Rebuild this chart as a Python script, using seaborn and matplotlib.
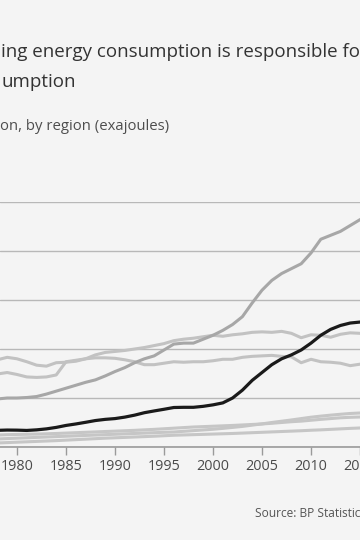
import numpy as np
import pandas as pd
import matplotlib
matplotlib.use("Agg")
import matplotlib.pyplot as plt
import seaborn as sns

# Primary energy consumption by region, exajoules
years = list(range(1977, 2017))

china = [16.2, 17.0, 17.3, 17.2, 16.9, 17.5, 18.5, 20.0, 22.0, 23.5,
         25.2, 27.0, 28.2, 29.0, 30.5, 32.5, 35.0, 36.8, 38.5, 40.3,
         40.5, 40.5, 41.5, 43.0, 45.0, 50.0, 58.0, 68.0, 76.0, 84.0,
         90.0, 94.0, 99.0, 106.0, 114.0, 120.0, 124.0, 126.5, 127.5, 128.5]
asia_pacific = [47.5, 49, 50, 50, 50.5, 51.5, 54, 57, 60, 63,
                66, 68.5, 72.5, 77, 81, 86, 90, 93, 99, 105,
                106, 106, 110, 114, 119, 125, 133, 147, 160, 170,
                177, 182, 187, 198, 212, 216, 220, 226, 232, 236]
north_america = [88, 89, 91.5, 90, 87, 83.5, 82.5, 86, 86.5, 87.5,
                 90, 94, 96.5, 97.5, 98.5, 100, 101.5, 103.5, 105.5, 108.5,
                 110, 111, 112.5, 114, 113, 114.5, 115.5, 117, 117.5, 117,
                 118, 116, 111.5, 114.5, 114, 112, 115, 116.5, 116, 116]
europe = [73.5, 74.5, 76, 74, 71.5, 71, 71.5, 73.5, 87, 88.5,
          90, 91, 91, 90.5, 89, 87, 84, 84, 85.5, 87,
          86.5, 87, 87, 88, 89.5, 89.5, 91.5, 92.5, 93, 93.5,
          92.5, 92, 86, 89.5, 87, 86.5, 85.5, 83, 84.5, 85.5]
middle_east = [7.5, 8.2, 8.6, 9, 9.4, 9.8, 10.2, 10.6, 11, 11.4,
               11.8, 12.2, 12.6, 13, 13.4, 13.8, 14.2, 14.6, 15, 15.3,
               16, 16.7, 17.4, 18.1, 19, 20, 21, 22.3, 23.6, 25,
               26.3, 27.6, 29, 30.4, 31.5, 32.5, 33.4, 34.2, 34.7, 35.2]
sc_america = [11.8, 12.2, 12.6, 12.8, 13, 13.2, 13.5, 13.8, 14.2, 14.6,
              15, 15.4, 15.8, 16.2, 16.6, 17, 17.5, 18, 18.6, 19.2,
              19.8, 20.4, 20.8, 21.2, 21.6, 22, 22.5, 23, 23.5, 24.2,
              25, 25.8, 26.4, 27.3, 28.2, 29, 29.8, 30.3, 30.6, 30.8]
africa = [3.8, 4.1, 4.5, 4.9, 5.3, 5.7, 6.1, 6.5, 7, 7.5,
          8, 8.5, 9, 9.4, 9.8, 10.2, 10.6, 11, 11.5, 12,
          12.3, 12.6, 12.9, 13.2, 13.5, 13.8, 14.2, 14.6, 15, 15.4,
          15.8, 16.2, 16.6, 17.1, 17.5, 18, 18.5, 19, 19.4, 19.8]

tick_years = [1980, 1985, 1990, 1995, 2000, 2005, 2010, 2015]
y_ticks = [0, 50, 100, 150, 200, 250]

title_lines = ["ing energy consumption is responsible for", "umption"]
subtitle = "on, by region (exajoules)"
source = "Source: BP Statistical Review of World Energy"

bg = "#f4f4f4"
sns.set_theme(style="white")
plt.rcParams["font.family"] = ["Open Sans", "DejaVu Sans"]

fig = plt.figure(figsize=(3.6, 5.4), dpi=100, facecolor=bg)
# the plot area runs past the edges of the crop
ax = fig.add_axes([0, 93 / 540, 1, 245 / 540])
ax.set_facecolor(bg)

series = [
    (africa, "#c6c6c6"),
    (sc_america, "#c6c6c6"),
    (middle_east, "#c6c6c6"),
    (europe, "#c2c2c2"),
    (north_america, "#c2c2c2"),
    (asia_pacific, "#a7a7a7"),
]
for vals, col in series:
    sns.lineplot(x=years, y=vals, color=col, lw=2.2, ax=ax)
sns.lineplot(x=years, y=china, color="#1a1a1a", lw=2.3, ax=ax)

ax.set_xticks(tick_years)
ax.set_xticklabels([str(t) for t in tick_years])
ax.set_yticks(y_ticks)
ax.set_yticklabels([])
ax.set_xlim(1980 - 17 / 9.8, 1980 + 343 / 9.8)
ax.set_ylim(0, 250)
ax.grid(axis="y", color="#b8b8b8", lw=1)
ax.grid(axis="x", visible=False)
ax.set_axisbelow(True)
for s in ["left", "right", "top"]:
    ax.spines[s].set_visible(False)
ax.spines["bottom"].set_color("#9a9a9a")
ax.spines["bottom"].set_linewidth(1.2)
ax.tick_params(axis="x", direction="out", length=5.8, width=1, color="#9a9a9a",
               pad=3, labelsize=10.4, labelcolor="#4a4a4a", bottom=True)
ax.tick_params(axis="y", length=0)
ax.set_xlabel("")
ax.set_ylabel("")

fig.text(0.004, 1 - 57 / 540, title_lines[0], fontsize=13.5, color="#333333", va="baseline")
fig.text(0.004, 1 - 87 / 540, title_lines[1], fontsize=13.5, color="#333333", va="baseline")
fig.text(0.0, 1 - 130 / 540, subtitle, fontsize=10.7, color="#4d4d4d", va="baseline")
fig.text(255 / 360, 1 - 517 / 540, source, fontsize=8.6, color="#555555", va="baseline")

fig.savefig("out.png", dpi=100, facecolor=bg)
